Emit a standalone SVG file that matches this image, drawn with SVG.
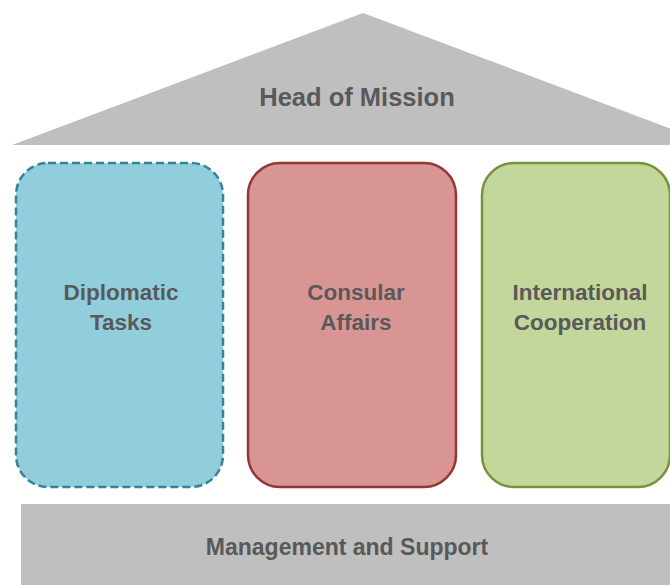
<svg xmlns="http://www.w3.org/2000/svg" width="670" height="585" viewBox="0 0 670 585">
<style>
.lbl{font-family:"Liberation Sans",Arial,sans-serif;font-weight:bold;fill:#595959;text-anchor:middle}
.big{font-size:25.5px}
.mid{font-size:22.5px}
.gray{fill:#bfbfbf}
.box{stroke-width:2.5}
</style>
<rect width="670" height="585" fill="#ffffff"/>
<g id="head">
<polygon class="gray" points="12,145 363,13 714,145"/>
<text class="lbl big" x="357" y="106">Head of Mission</text>
</g>
<g id="diplomatic">
<rect class="box" x="16" y="163" width="207" height="324" rx="32" fill="#92cddc" stroke="#31849b" stroke-dasharray="8,4" stroke-width="3"/>
<text class="lbl mid" x="121" y="300">Diplomatic</text>
<text class="lbl mid" x="121" y="330">Tasks</text>
</g>
<g id="consular">
<rect class="box" x="248" y="163" width="208" height="324" rx="32" fill="#d99594" stroke="#943634"/>
<text class="lbl mid" x="356" y="300">Consular</text>
<text class="lbl mid" x="356" y="330">Affairs</text>
</g>
<g id="international">
<rect class="box" x="482" y="163" width="188" height="324" rx="32" fill="#c3d69b" stroke="#77933c"/>
<text class="lbl mid" x="580" y="300">International</text>
<text class="lbl mid" x="580" y="330">Cooperation</text>
</g>
<g id="management">
<rect class="gray" x="21" y="504" width="660" height="90"/>
<text class="lbl" font-size="23px" x="347" y="555">Management and Support</text>
</g>
<g id="connectors"></g>
</svg>
